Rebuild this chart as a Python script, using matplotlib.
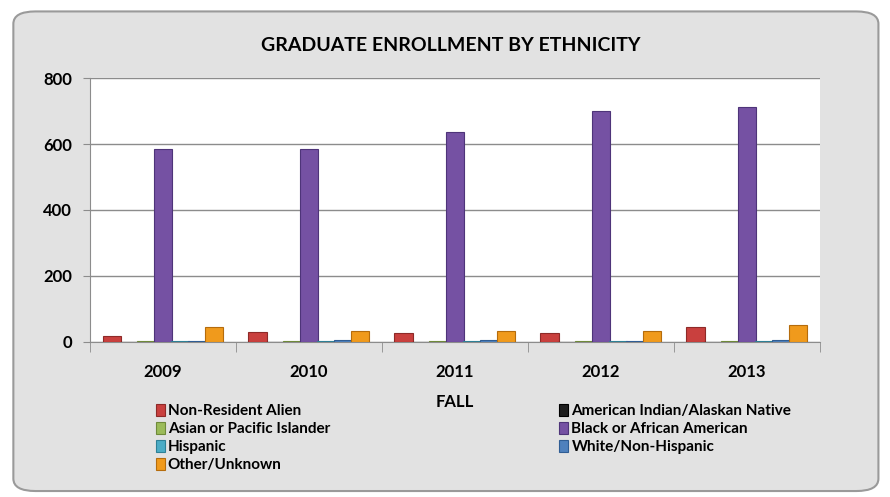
import numpy as np
import matplotlib.pyplot as plt
from matplotlib.patches import FancyBboxPatch

plt.rcParams['font.family'] = ['Lato', 'DejaVu Sans']
plt.rcParams['font.weight'] = 'bold'

years = ['2009', '2010', '2011', '2012', '2013']
series = ['Non-Resident Alien', 'American Indian/Alaskan Native',
          'Asian or Pacific Islander', 'Black or African American',
          'Hispanic', 'White/Non-Hispanic', 'Other/Unknown']
non_resident = [18, 30, 26, 28, 45]
american_indian = [1, 1, 1, 1, 1]
asian = [2, 2, 2, 2, 2]
black = [585, 585, 635, 700, 713]
hispanic = [2, 3, 3, 3, 2]
white = [3, 5, 6, 4, 5]
other = [45, 33, 33, 33, 50]
values = [non_resident, american_indian, asian, black, hispanic, white, other]
colors = ['#c9403e', '#1e1e1e', '#9bbb59', '#7551a3', '#4bacc6', '#4f81bd', '#f09a1c']
edges = ['#8e2a28', '#000000', '#6f8a3a', '#4e3479', '#2e8096', '#2f5d94', '#b56c0c']

fig = plt.figure(figsize=(8.9, 4.97), dpi=100)
fig.patch.set_facecolor('white')
frame = FancyBboxPatch((0.015, 0.012), 0.972, 0.965, boxstyle='round,pad=0,rounding_size=0.025',
                       transform=fig.transFigure, facecolor='#e2e2e2', edgecolor='#9a9a9a',
                       linewidth=1.5, zorder=-5)
fig.patches.append(frame)

ax = fig.add_axes([0.101, 0.312, 0.82, 0.531])
ax.set_zorder(2)
ax.set_facecolor('white')

x = np.arange(len(years))
step = 0.117
width = 0.125
handles = []
for i, (name, vals) in enumerate(zip(series, values)):
    b = ax.bar(x + (i - 3) * step, vals, width, color=colors[i], edgecolor=edges[i],
               linewidth=0.8, label=name, zorder=3)
    handles.append(b)

ax.set_xlim(-0.5, len(years) - 0.5)
ax.set_ylim(0, 800)
ax.set_yticks([0, 200, 400, 600, 800])
ax.yaxis.grid(True, color='#8c8c8c', linewidth=1.0, zorder=0)
ax.set_axisbelow(True)
ax.set_xticks(x)
ax.set_xticklabels(years)
ax.set_xticks(np.arange(-0.5, len(years)), minor=True)
ax.tick_params(axis='x', which='major', length=0, pad=16, labelsize=12)
ax.tick_params(axis='x', which='minor', length=7, color='#8c8c8c', direction='out')
ax.tick_params(axis='y', length=5, color='#8c8c8c', labelsize=12, pad=8)
for s in ['top', 'right']:
    ax.spines[s].set_visible(False)
ax.spines['left'].set_color('#8c8c8c')
ax.spines['bottom'].set_color('#8c8c8c')
ax.set_xlabel('FALL', fontsize=12, fontweight='bold', labelpad=10)

fig.text(0.506, 0.908, 'GRADUATE ENROLLMENT BY ETHNICITY', ha='center', va='center',
         fontsize=14, fontweight='bold')

# row-wise order as in the original legend
order = [0, 2, 4, 6, 1, 3, 5]
ax.legend([handles[k] for k in order], [series[k] for k in order],
          loc='upper left', bbox_to_anchor=(0.09, -0.236), ncol=2, frameon=False,
          fontsize=11, handlelength=0.6, handleheight=0.8, handletextpad=0.2,
          columnspacing=15.0, labelspacing=0.25, borderaxespad=0, borderpad=0)

fig.savefig('out.png', dpi=100)
